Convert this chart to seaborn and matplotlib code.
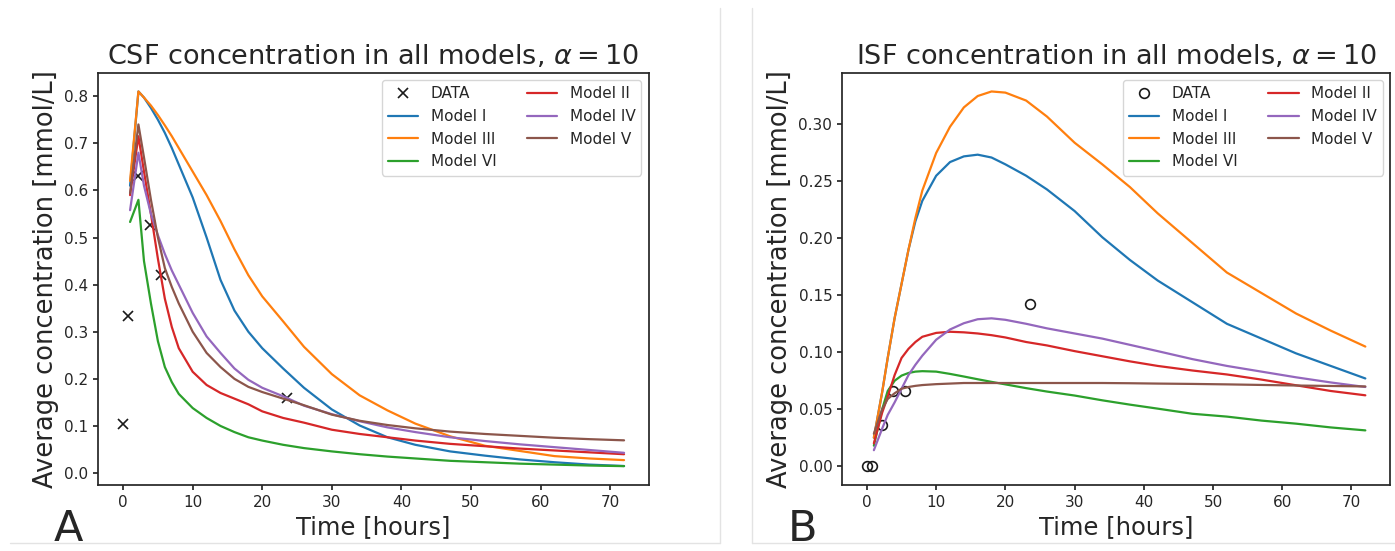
import numpy as np
import pandas as pd
import matplotlib
matplotlib.use("Agg")
import matplotlib.pyplot as plt
from matplotlib.lines import Line2D
import seaborn as sns

# time grid of the model curves (hours)
hours = [1, 2.2, 3, 4, 5, 6, 7, 8, 10, 12, 14, 16, 18, 20, 23, 26, 30, 34, 38, 42, 47, 52, 57, 62, 67, 72]

# measured data
data_t = [0, 0.7, 2.2, 3.8, 5.5, 23.6]
csf_data = [0.105, 0.334, 0.63, 0.526, 0.42, 0.16]
isf_data = [0.0, 0.0, 0.036, 0.066, 0.066, 0.142]

# CSF concentration per model
csf_I = [0.61, 0.81, 0.797, 0.775, 0.75, 0.722, 0.69, 0.655, 0.585, 0.5, 0.41, 0.345, 0.3, 0.265, 0.222, 0.181,
         0.135, 0.101, 0.076, 0.06, 0.046, 0.037, 0.029, 0.023, 0.018, 0.015]
csf_III = [0.62, 0.81, 0.797, 0.78, 0.76, 0.738, 0.715, 0.69, 0.64, 0.59, 0.535, 0.475, 0.42, 0.375, 0.322, 0.268,
           0.21, 0.165, 0.133, 0.105, 0.078, 0.058, 0.047, 0.036, 0.031, 0.0275]
csf_VI = [0.533, 0.58, 0.45, 0.36, 0.28, 0.225, 0.193, 0.168, 0.138, 0.117, 0.1, 0.087, 0.076, 0.069, 0.06, 0.053,
          0.046, 0.04, 0.035, 0.031, 0.026, 0.023, 0.02, 0.018, 0.016, 0.0147]
csf_II = [0.59, 0.715, 0.64, 0.55, 0.455, 0.37, 0.31, 0.265, 0.215, 0.187, 0.17, 0.158, 0.146, 0.131, 0.117, 0.107,
          0.092, 0.083, 0.076, 0.069, 0.062, 0.057, 0.052, 0.048, 0.044, 0.04]
csf_IV = [0.558, 0.68, 0.61, 0.55, 0.505, 0.465, 0.43, 0.4, 0.34, 0.29, 0.255, 0.222, 0.198, 0.181, 0.163, 0.143,
          0.125, 0.11, 0.097, 0.087, 0.076, 0.068, 0.061, 0.055, 0.049, 0.043]
csf_V = [0.594, 0.74, 0.67, 0.58, 0.5, 0.435, 0.395, 0.36, 0.3, 0.255, 0.225, 0.2, 0.183, 0.172, 0.158, 0.144,
         0.124, 0.111, 0.102, 0.095, 0.088, 0.083, 0.079, 0.075, 0.072, 0.0695]

# ISF concentration per model
isf_I = [0.025, 0.065, 0.095, 0.13, 0.16, 0.19, 0.215, 0.233, 0.255, 0.267, 0.272, 0.2735, 0.271, 0.265, 0.255, 0.243,
         0.224, 0.201, 0.181, 0.163, 0.144, 0.125, 0.112, 0.099, 0.088, 0.077]
isf_III = [0.025, 0.065, 0.095, 0.13, 0.16, 0.19, 0.218, 0.242, 0.275, 0.298, 0.315, 0.325, 0.329, 0.328, 0.321, 0.307,
           0.284, 0.265, 0.245, 0.222, 0.196, 0.17, 0.152, 0.134, 0.119, 0.105]
isf_VI = [0.018, 0.05, 0.066, 0.075, 0.0795, 0.0818, 0.083, 0.0834, 0.083, 0.081, 0.0787, 0.0763, 0.074, 0.0718,
          0.0685, 0.0655, 0.062, 0.0578, 0.054, 0.0505, 0.046, 0.0435, 0.04, 0.0373, 0.034, 0.0314]
isf_II = [0.02, 0.047, 0.061, 0.08, 0.095, 0.103, 0.109, 0.1136, 0.117, 0.118, 0.1175, 0.1165, 0.115, 0.113, 0.109,
          0.106, 0.101, 0.0965, 0.092, 0.088, 0.084, 0.0805, 0.076, 0.071, 0.066, 0.0622]
isf_IV = [0.014, 0.033, 0.045, 0.056, 0.068, 0.08, 0.089, 0.097, 0.111, 0.12, 0.1255, 0.129, 0.1298, 0.1285, 0.125,
          0.121, 0.1165, 0.112, 0.1065, 0.101, 0.094, 0.088, 0.083, 0.078, 0.0735, 0.0695]
isf_V = [0.0285, 0.05, 0.059, 0.064, 0.068, 0.0695, 0.0705, 0.0712, 0.072, 0.0725, 0.073, 0.073, 0.073, 0.073,
         0.073, 0.073, 0.073, 0.073, 0.0728, 0.0725, 0.0722, 0.0718, 0.0713, 0.0708, 0.0704, 0.07]

model_names = ["Model I", "Model III", "Model VI", "Model II", "Model IV", "Model V"]
csf_models = [csf_I, csf_III, csf_VI, csf_II, csf_IV, csf_V]
isf_models = [isf_I, isf_III, isf_VI, isf_II, isf_IV, isf_V]
colors = sns.color_palette("tab10", 6)


def draw_panel(ax, title, data_vals, models, marker, mfc):
	sns.lineplot(x=data_t, y=data_vals, ax=ax, marker=marker, linestyle='', color='k',
				 mec='k', mfc=mfc, mew=1.2, markersize=7, label="DATA")
	for name, vals, col in zip(model_names, models, colors):
		sns.lineplot(x=hours, y=vals, ax=ax, color=col, lw=1.6, label=name)
	ax.set_title(title, fontsize=19.5)
	ax.set_xlabel("Time [hours]", fontsize=17.5)
	ax.set_ylabel("Average concentration [mmol/L]", fontsize=18.5)
	ax.set_xticks(range(0, 71, 10))
	ax.tick_params(labelsize=11, length=3.5)
	ax.legend(loc="upper right", ncol=2, fontsize=11)


sns.set_theme(style="ticks")
plt.rcParams['font.family'] = ['DejaVu Sans']

fig = plt.figure(figsize=(13.95, 5.51), dpi=100)
ax1 = fig.add_axes([0.0703, 0.120, 0.395, 0.748])
ax2 = fig.add_axes([0.6036, 0.120, 0.393, 0.748])

draw_panel(ax1, r"CSF concentration in all models, $\alpha = 10$", csf_data, csf_models, 'x', 'k')
draw_panel(ax2, r"ISF concentration in all models, $\alpha = 10$", isf_data, isf_models, 'o', 'none')
ax2.set_yticks(np.arange(0, 0.31, 0.05))

# borders of the two composed panels
sep = '#e3e3e3'
fig.add_artist(Line2D([720 / 1395, 720 / 1395], [0.015, 0.985], color=sep, lw=1))
fig.add_artist(Line2D([752 / 1395, 752 / 1395], [0.015, 0.985], color=sep, lw=1))
fig.add_artist(Line2D([0.007, 720 / 1395], [0.015, 0.015], color=sep, lw=1))
fig.add_artist(Line2D([752 / 1395, 1.0], [0.015, 0.015], color=sep, lw=1))

fig.text(54 / 1395, 1 / 551, "A", fontsize=31, va='bottom', ha='left')
fig.text(788 / 1395, 1 / 551, "B", fontsize=31, va='bottom', ha='left')

fig.savefig("out.png", dpi=100)
